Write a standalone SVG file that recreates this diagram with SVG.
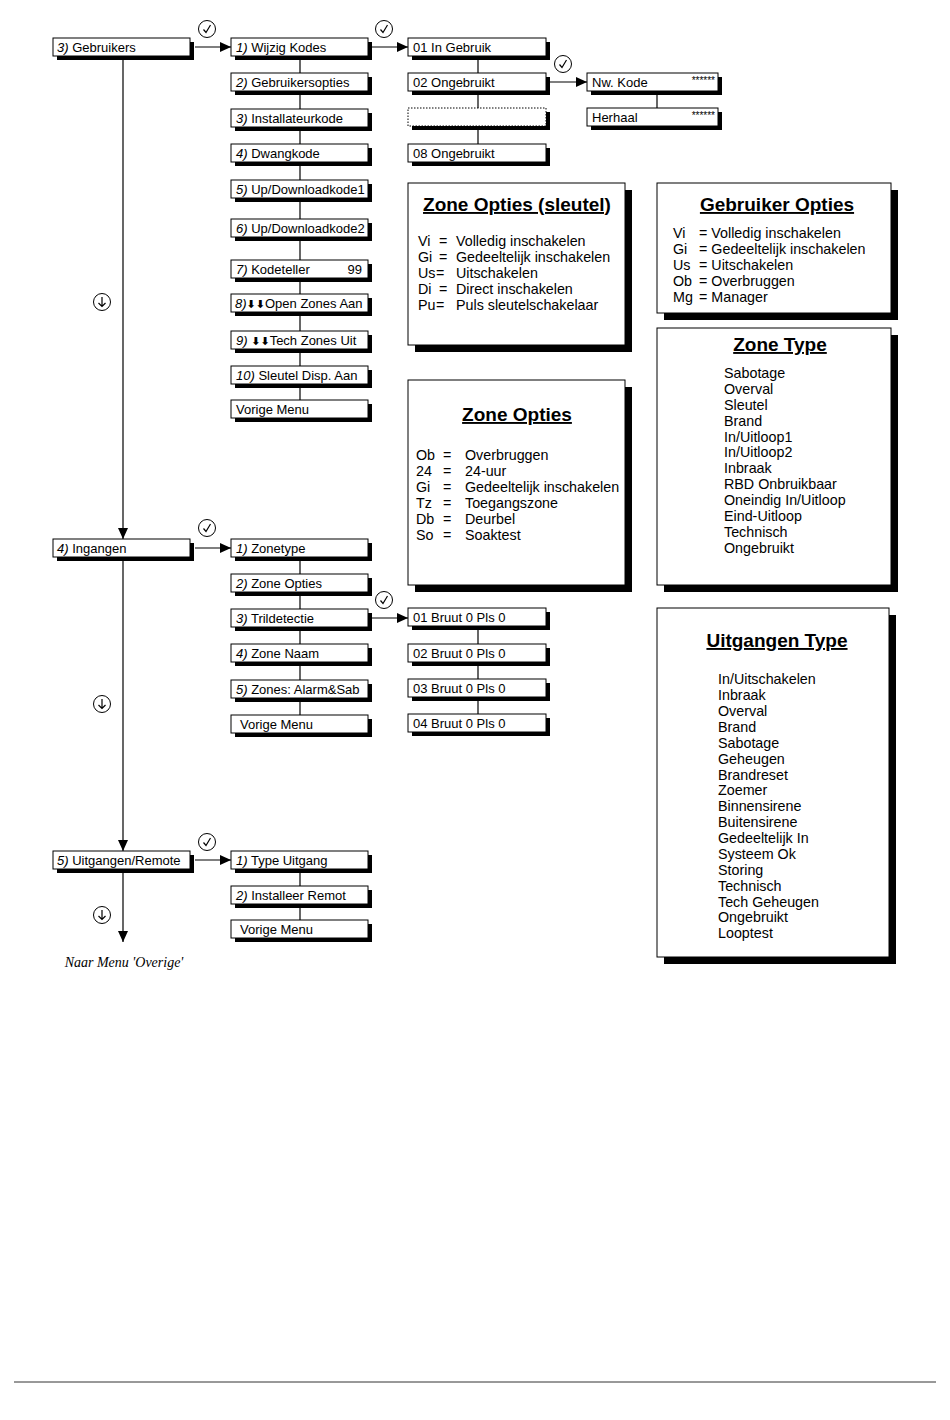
<svg xmlns="http://www.w3.org/2000/svg" width="950" height="1420" viewBox="0 0 950 1420">
<defs>
<style>
.bx{fill:#fff;stroke:#000;stroke-width:1}
.dot{fill:#fff;stroke:#000;stroke-width:1;stroke-dasharray:1.5,1.5}
.sh{fill:#000}
.t{font-family:"Liberation Sans",Arial,sans-serif;font-size:13px;fill:#000}
.b{font-family:"Liberation Sans",Arial,sans-serif;font-size:14.3px;fill:#000}
.i{font-style:italic}
.ti{font-family:"Liberation Sans",Arial,sans-serif;font-size:19px;font-weight:bold;text-decoration:underline;fill:#000;text-anchor:middle}
.ln{stroke:#000;stroke-width:1.2;fill:none}
.ic{fill:#fff;stroke:#000;stroke-width:1}
.ar{font-family:"DejaVu Sans",sans-serif;font-weight:bold;font-size:11px}
.st{font-family:"Liberation Sans",Arial,sans-serif;font-size:10px;fill:#000;text-anchor:end}
.nm{font-family:"Liberation Serif","Times New Roman",serif;font-style:italic;font-size:14px;fill:#000;text-anchor:middle}
</style>
<marker id="ah" markerWidth="12" markerHeight="10" refX="11" refY="5" orient="auto" markerUnits="userSpaceOnUse">
<path d="M0,0 L11,5 L0,10 z" fill="#000"/>
</marker>
<g id="chk"><circle class="ic" cx="0" cy="0" r="8.5"/><path d="M-3.5,0.5 L-1,3.5 L3.5,-4" fill="none" stroke="#000" stroke-width="1.2"/></g>
<g id="dwn"><circle class="ic" cx="0" cy="0" r="8.5"/><path d="M0,-5 V4.5 M-3.5,1 L0,4.5 L3.5,1" fill="none" stroke="#000" stroke-width="1.2"/></g>
</defs>
<rect x="0" y="0" width="950" height="1420" fill="#fff"/>

<g id="connectors">
<line class="ln" x1="123" y1="56" x2="123" y2="539" marker-end="url(#ah)"/>
<line class="ln" x1="123" y1="557" x2="123" y2="851" marker-end="url(#ah)"/>
<line class="ln" x1="123" y1="869" x2="123" y2="942" marker-end="url(#ah)"/>
<line class="ln" x1="195" y1="47" x2="231" y2="47" marker-end="url(#ah)"/>
<line class="ln" x1="372" y1="47" x2="408" y2="47" marker-end="url(#ah)"/>
<line class="ln" x1="550" y1="82" x2="587" y2="82" marker-end="url(#ah)"/>
<line class="ln" x1="195" y1="548" x2="231" y2="548" marker-end="url(#ah)"/>
<line class="ln" x1="372" y1="618" x2="408" y2="618" marker-end="url(#ah)"/>
<line class="ln" x1="195" y1="860" x2="231" y2="860" marker-end="url(#ah)"/>
<line class="ln" x1="300" y1="56" x2="300" y2="400"/>
<line class="ln" x1="300" y1="557" x2="300" y2="715"/>
<line class="ln" x1="300" y1="869" x2="300" y2="920"/>
<line class="ln" x1="478" y1="56" x2="478" y2="144"/>
<line class="ln" x1="478" y1="626" x2="478" y2="714"/>
<line class="ln" x1="657" y1="91" x2="657" y2="108"/>
<use href="#chk" x="207" y="29"/>
<use href="#chk" x="384" y="29"/>
<use href="#chk" x="563" y="64"/>
<use href="#chk" x="207" y="528"/>
<use href="#chk" x="384" y="600"/>
<use href="#chk" x="207" y="842"/>
<use href="#dwn" x="102" y="302"/>
<use href="#dwn" x="102" y="704"/>
<use href="#dwn" x="102" y="915"/>
</g>

<g id="n-gebruikers"><rect class="sh" x="57" y="42" width="137" height="18"/><rect class="bx" x="53" y="38" width="137" height="18"/><text class="t" x="57" y="51.5"><tspan class="i">3)</tspan> Gebruikers</text></g>
<g id="n-ingangen"><rect class="sh" x="57" y="543" width="137" height="18"/><rect class="bx" x="53" y="539" width="137" height="18"/><text class="t" x="57" y="552.5"><tspan class="i">4)</tspan> Ingangen</text></g>
<g id="n-uitgangen"><rect class="sh" x="57" y="855" width="137" height="18"/><rect class="bx" x="53" y="851" width="137" height="18"/><text class="t" x="57" y="864.5"><tspan class="i">5)</tspan> Uitgangen/Remote</text></g>

<g id="n-wijzig"><rect class="sh" x="235" y="42" width="137" height="18"/><rect class="bx" x="231" y="38" width="137" height="18"/><text class="t" x="236" y="51.5"><tspan class="i">1)</tspan> Wijzig Kodes</text></g>
<g id="n-gebropt"><rect class="sh" x="235" y="77" width="137" height="18"/><rect class="bx" x="231" y="73" width="137" height="18"/><text class="t" x="236" y="86.5"><tspan class="i">2)</tspan> Gebruikersopties</text></g>
<g id="n-install"><rect class="sh" x="235" y="113" width="137" height="18"/><rect class="bx" x="231" y="109" width="137" height="18"/><text class="t" x="236" y="122.5"><tspan class="i">3)</tspan> Installateurkode</text></g>
<g id="n-dwang"><rect class="sh" x="235" y="148" width="137" height="18"/><rect class="bx" x="231" y="144" width="137" height="18"/><text class="t" x="236" y="157.5"><tspan class="i">4)</tspan> Dwangkode</text></g>
<g id="n-up1"><rect class="sh" x="235" y="184" width="137" height="18"/><rect class="bx" x="231" y="180" width="137" height="18"/><text class="t" x="236" y="193.5"><tspan class="i">5)</tspan> Up/Downloadkode1</text></g>
<g id="n-up2"><rect class="sh" x="235" y="223" width="137" height="18"/><rect class="bx" x="231" y="219" width="137" height="18"/><text class="t" x="236" y="232.5"><tspan class="i">6)</tspan> Up/Downloadkode2</text></g>
<g id="n-kodeteller"><rect class="sh" x="235" y="264" width="137" height="18"/><rect class="bx" x="231" y="260" width="137" height="18"/><text class="t" x="236" y="273.5"><tspan class="i">7)</tspan> Kodeteller</text><text class="t" x="362" y="273.5" text-anchor="end">99</text></g>
<g id="n-open"><rect class="sh" x="235" y="298" width="137" height="18"/><rect class="bx" x="231" y="294" width="137" height="18"/><text class="t" x="235" y="307.5"><tspan class="i">8)</tspan><tspan class="ar">⬇⬇</tspan>Open Zones Aan</text></g>
<g id="n-tech"><rect class="sh" x="235" y="335" width="137" height="18"/><rect class="bx" x="231" y="331" width="137" height="18"/><text class="t" x="236" y="344.5"><tspan class="i">9)</tspan> <tspan class="ar">⬇⬇</tspan>Tech Zones Uit</text></g>
<g id="n-sleutel"><rect class="sh" x="235" y="370" width="137" height="18"/><rect class="bx" x="231" y="366" width="137" height="18"/><text class="t" x="236" y="379.5"><tspan class="i">10)</tspan> Sleutel Disp. Aan</text></g>
<g id="n-vorige1"><rect class="sh" x="235" y="404" width="137" height="18"/><rect class="bx" x="231" y="400" width="137" height="18"/><text class="t" x="236" y="413.5">Vorige Menu</text></g>

<g id="n-ingebruik"><rect class="sh" x="412" y="42" width="138" height="18"/><rect class="bx" x="408" y="38" width="138" height="18"/><text class="t" x="413" y="51.5">01 In Gebruik</text></g>
<g id="n-ong02"><rect class="sh" x="412" y="77" width="138" height="18"/><rect class="bx" x="408" y="73" width="138" height="18"/><text class="t" x="413" y="86.5">02 Ongebruikt</text></g>
<g id="n-empty"><rect class="sh" x="412" y="112" width="138" height="18"/><rect class="dot" x="408" y="108" width="138" height="18"/></g>
<g id="n-ong08"><rect class="sh" x="412" y="148" width="138" height="18"/><rect class="bx" x="408" y="144" width="138" height="18"/><text class="t" x="413" y="157.5">08 Ongebruikt</text></g>
<g id="n-nwkode"><rect class="sh" x="591" y="77" width="131" height="18"/><rect class="bx" x="587" y="73" width="131" height="18"/><text class="t" x="592" y="86.5">Nw. Kode</text><text class="st" x="715" y="84">******</text></g>
<g id="n-herhaal"><rect class="sh" x="591" y="112" width="131" height="18"/><rect class="bx" x="587" y="108" width="131" height="18"/><text class="t" x="592" y="121.5">Herhaal</text><text class="st" x="715" y="119">******</text></g>

<g id="n-zonetype"><rect class="sh" x="235" y="543" width="137" height="18"/><rect class="bx" x="231" y="539" width="137" height="18"/><text class="t" x="236" y="552.5"><tspan class="i">1)</tspan> Zonetype</text></g>
<g id="n-zoneopt"><rect class="sh" x="235" y="578" width="137" height="18"/><rect class="bx" x="231" y="574" width="137" height="18"/><text class="t" x="236" y="587.5"><tspan class="i">2)</tspan> Zone Opties</text></g>
<g id="n-tril"><rect class="sh" x="235" y="613" width="137" height="18"/><rect class="bx" x="231" y="609" width="137" height="18"/><text class="t" x="236" y="622.5"><tspan class="i">3)</tspan> Trildetectie</text></g>
<g id="n-naam"><rect class="sh" x="235" y="648" width="137" height="18"/><rect class="bx" x="231" y="644" width="137" height="18"/><text class="t" x="236" y="657.5"><tspan class="i">4)</tspan> Zone Naam</text></g>
<g id="n-alarm"><rect class="sh" x="235" y="684" width="137" height="18"/><rect class="bx" x="231" y="680" width="137" height="18"/><text class="t" x="236" y="693.5"><tspan class="i">5)</tspan> Zones: Alarm&amp;Sab</text></g>
<g id="n-vorige2"><rect class="sh" x="235" y="719" width="137" height="18"/><rect class="bx" x="231" y="715" width="137" height="18"/><text class="t" x="240" y="728.5">Vorige Menu</text></g>

<g id="n-bruut1"><rect class="sh" x="412" y="612" width="138" height="18"/><rect class="bx" x="408" y="608" width="138" height="18"/><text class="t" x="413" y="621.5">01 Bruut 0 Pls 0</text></g>
<g id="n-bruut2"><rect class="sh" x="412" y="648" width="138" height="18"/><rect class="bx" x="408" y="644" width="138" height="18"/><text class="t" x="413" y="657.5">02 Bruut 0 Pls 0</text></g>
<g id="n-bruut3"><rect class="sh" x="412" y="683" width="138" height="18"/><rect class="bx" x="408" y="679" width="138" height="18"/><text class="t" x="413" y="692.5">03 Bruut 0 Pls 0</text></g>
<g id="n-bruut4"><rect class="sh" x="412" y="718" width="138" height="18"/><rect class="bx" x="408" y="714" width="138" height="18"/><text class="t" x="413" y="727.5">04 Bruut 0 Pls 0</text></g>

<g id="n-typeuit"><rect class="sh" x="235" y="855" width="137" height="18"/><rect class="bx" x="231" y="851" width="137" height="18"/><text class="t" x="236" y="864.5"><tspan class="i">1)</tspan> Type Uitgang</text></g>
<g id="n-remot"><rect class="sh" x="235" y="890" width="137" height="18"/><rect class="bx" x="231" y="886" width="137" height="18"/><text class="t" x="236" y="899.5"><tspan class="i">2)</tspan> Installeer Remot</text></g>
<g id="n-vorige3"><rect class="sh" x="235" y="924" width="137" height="18"/><rect class="bx" x="231" y="920" width="137" height="18"/><text class="t" x="240" y="933.5">Vorige Menu</text></g>

<g id="n-naar"><text class="nm" x="124" y="967">Naar Menu 'Overige'</text></g>

<g id="info-zoneopt-sleutel">
<rect class="sh" x="415" y="190" width="217" height="162"/><rect class="bx" x="408" y="183" width="217" height="162"/>
<text class="ti" x="517" y="211">Zone Opties (sleutel)</text>
<g class="b">
<text x="418" y="246">Vi</text><text x="439" y="246">=</text><text x="456" y="246">Volledig inschakelen</text>
<text x="418" y="262">Gi</text><text x="439" y="262">=</text><text x="456" y="262">Gedeeltelijk inschakelen</text>
<text x="418" y="278">Us</text><text x="436" y="278">=</text><text x="456" y="278">Uitschakelen</text>
<text x="418" y="294">Di</text><text x="439" y="294">=</text><text x="456" y="294">Direct inschakelen</text>
<text x="418" y="310">Pu</text><text x="436" y="310">=</text><text x="456" y="310">Puls sleutelschakelaar</text>
</g>
</g>

<g id="info-gebruiker-opties">
<rect class="sh" x="664" y="190" width="234" height="130"/><rect class="bx" x="657" y="183" width="234" height="130"/>
<text class="ti" x="777" y="211">Gebruiker Opties</text>
<g class="b">
<text x="673" y="238">Vi</text><text x="699" y="238">= Volledig inschakelen</text>
<text x="673" y="254">Gi</text><text x="699" y="254">= Gedeeltelijk inschakelen</text>
<text x="673" y="270">Us</text><text x="699" y="270">= Uitschakelen</text>
<text x="673" y="286">Ob</text><text x="699" y="286">= Overbruggen</text>
<text x="673" y="302">Mg</text><text x="699" y="302">= Manager</text>
</g>
</g>

<g id="info-zonetype">
<rect class="sh" x="664" y="335" width="234" height="257"/><rect class="bx" x="657" y="328" width="234" height="257"/>
<text class="ti" x="780" y="351">Zone Type</text>
<g class="b">
<text x="724" y="378">Sabotage</text>
<text x="724" y="394">Overval</text>
<text x="724" y="410">Sleutel</text>
<text x="724" y="425.5">Brand</text>
<text x="724" y="441.5">In/Uitloop1</text>
<text x="724" y="457">In/Uitloop2</text>
<text x="724" y="473">Inbraak</text>
<text x="724" y="489">RBD Onbruikbaar</text>
<text x="724" y="505">Oneindig In/Uitloop</text>
<text x="724" y="520.5">Eind-Uitloop</text>
<text x="724" y="536.5">Technisch</text>
<text x="724" y="552.5">Ongebruikt</text>
</g>
</g>

<g id="info-zoneopties">
<rect class="sh" x="415" y="387" width="217" height="205"/><rect class="bx" x="408" y="380" width="217" height="205"/>
<text class="ti" x="517" y="421">Zone Opties</text>
<g class="b">
<text x="416" y="460">Ob</text><text x="443" y="460">=</text><text x="465" y="460">Overbruggen</text>
<text x="416" y="476">24</text><text x="443" y="476">=</text><text x="465" y="476">24-uur</text>
<text x="416" y="492">Gi</text><text x="443" y="492">=</text><text x="465" y="492">Gedeeltelijk inschakelen</text>
<text x="416" y="508">Tz</text><text x="443" y="508">=</text><text x="465" y="508">Toegangszone</text>
<text x="416" y="524">Db</text><text x="443" y="524">=</text><text x="465" y="524">Deurbel</text>
<text x="416" y="540">So</text><text x="443" y="540">=</text><text x="465" y="540">Soaktest</text>
</g>
</g>

<g id="info-uitgangen-type">
<rect class="sh" x="664" y="615" width="232" height="349"/><rect class="bx" x="657" y="608" width="232" height="349"/>
<text class="ti" x="777" y="647">Uitgangen Type</text>
<g class="b">
<text x="718" y="684">In/Uitschakelen</text>
<text x="718" y="700">Inbraak</text>
<text x="718" y="716">Overval</text>
<text x="718" y="731.5">Brand</text>
<text x="718" y="747.5">Sabotage</text>
<text x="718" y="763.5">Geheugen</text>
<text x="718" y="779.5">Brandreset</text>
<text x="718" y="795">Zoemer</text>
<text x="718" y="811">Binnensirene</text>
<text x="718" y="827">Buitensirene</text>
<text x="718" y="843">Gedeeltelijk In</text>
<text x="718" y="859">Systeem Ok</text>
<text x="718" y="874.5">Storing</text>
<text x="718" y="890.5">Technisch</text>
<text x="718" y="906.5">Tech Geheugen</text>
<text x="718" y="922">Ongebruikt</text>
<text x="718" y="938">Looptest</text>
</g>
</g>

<line x1="14" y1="1382" x2="936" y2="1382" stroke="#333" stroke-width="1"/>
</svg>
